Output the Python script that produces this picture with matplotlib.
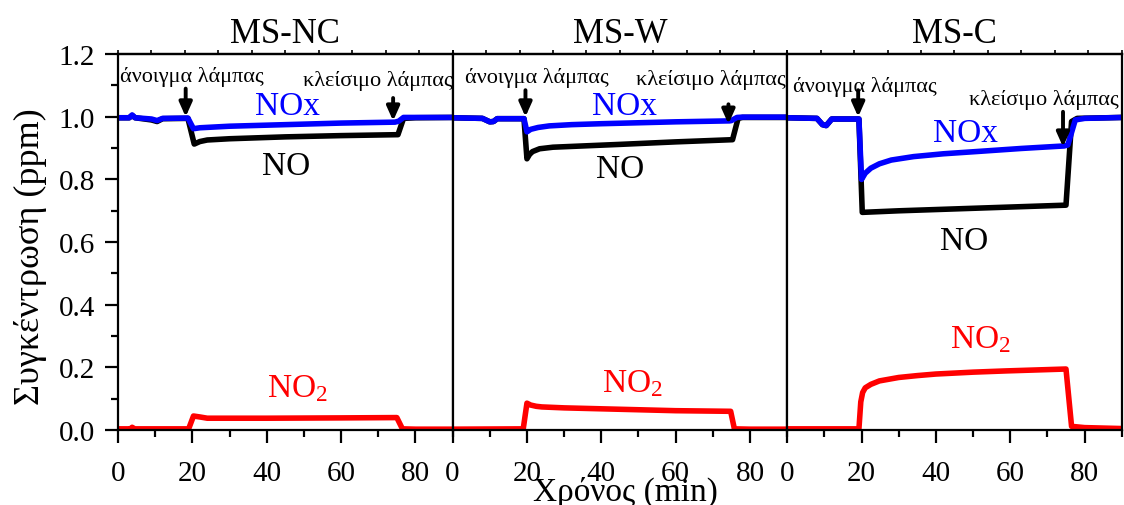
import matplotlib
matplotlib.use("Agg")
import matplotlib.pyplot as plt
from matplotlib.ticker import MultipleLocator

plt.rcParams['font.family'] = ['Liberation Serif', 'DejaVu Serif']
plt.rcParams['mathtext.fontset'] = 'custom'
plt.rcParams['mathtext.rm'] = 'Liberation Serif'
plt.rcParams['mathtext.default'] = 'regular'

# ---- data: concentration (ppm) versus time (min) for three samples ----
panel_titles = ["MS-NC", "MS-W", "MS-C"]

# MS-NC
nc_t_nox = [0, 3, 3.8, 4.6, 9, 10.5, 12, 18.8, 20.3, 22, 30, 45, 60, 74.5, 75.5, 76.8, 80, 90]
nc_nox = [0.997, 0.997, 1.006, 0.997, 0.993, 0.988, 0.995, 0.996, 0.962, 0.965, 0.970, 0.975,
          0.980, 0.983, 0.986, 0.998, 0.998, 0.998]
nc_t_no = [0, 3, 3.8, 4.6, 9, 10.5, 12, 18.8, 20.5, 22, 24, 30, 45, 60, 75.3, 76.8, 80, 90]
nc_no = [0.997, 0.997, 1.004, 0.997, 0.990, 0.985, 0.994, 0.995, 0.913, 0.921, 0.926, 0.930,
         0.936, 0.940, 0.943, 0.995, 0.997, 0.998]
nc_t_no2 = [0, 3.3, 3.8, 4.5, 19, 20.3, 22, 24, 40, 60, 75, 76.5, 80, 90]
nc_no2 = [0.004, 0.004, 0.009, 0.004, 0.004, 0.045, 0.042, 0.038, 0.038, 0.039, 0.040, 0.004,
          0.003, 0.003]

# MS-W
w_t_nox = [0, 8, 10, 11, 12, 19.2, 20, 21, 23, 26, 32, 40, 60, 74.5, 75, 76.5, 78, 90]
w_nox = [0.997, 0.995, 0.984, 0.985, 0.994, 0.994, 0.952, 0.960, 0.966, 0.971, 0.975, 0.978,
         0.984, 0.987, 0.988, 0.998, 0.999, 0.999]
w_t_no = [0, 8, 10, 11, 12, 19.2, 20, 20.7, 21.5, 23.4, 27, 35, 45, 60, 75.3, 76.8, 78, 90]
w_no = [0.997, 0.995, 0.984, 0.985, 0.994, 0.994, 0.866, 0.880, 0.889, 0.898, 0.903, 0.907,
        0.912, 0.920, 0.927, 0.995, 0.998, 0.998]
w_t_no2 = [0, 19, 20, 21, 22.5, 24, 30, 40, 50, 60, 74.8, 75.8, 80, 90]
w_no2 = [0.003, 0.004, 0.086, 0.080, 0.076, 0.074, 0.071, 0.068, 0.065, 0.062, 0.060, 0.004,
         0.003, 0.003]

# MS-C
c_t_nox = [0, 8, 9.5, 10.5, 12, 19.3, 20, 21, 22.5, 24.8, 28, 34, 42, 52, 63, 74.5, 75.5,
           77.5, 80, 90]
c_nox = [0.997, 0.995, 0.975, 0.972, 0.993, 0.993, 0.800, 0.820, 0.836, 0.850, 0.862, 0.873,
         0.882, 0.890, 0.899, 0.907, 0.910, 0.990, 0.995, 0.998]
c_t_no = [0, 8, 9.5, 10.5, 12, 19.3, 20.2, 30, 50, 75, 76.5, 78, 90]
c_no = [0.997, 0.995, 0.975, 0.972, 0.993, 0.993, 0.695, 0.700, 0.708, 0.718, 0.985, 0.995, 0.998]
c_t_no2 = [0, 19.3, 19.8, 20.3, 21, 22.5, 24.8, 30, 35, 40, 50, 59, 67, 75, 76.5, 80, 90]
c_no2 = [0.004, 0.004, 0.090, 0.120, 0.135, 0.146, 0.157, 0.168, 0.174, 0.179, 0.185, 0.189,
         0.192, 0.195, 0.012, 0.008, 0.005]

series = [
    ((nc_t_no, nc_no), (nc_t_nox, nc_nox), (nc_t_no2, nc_no2)),
    ((w_t_no, w_no), (w_t_nox, w_nox), (w_t_no2, w_no2)),
    ((c_t_no, c_no), (c_t_nox, c_nox), (c_t_no2, c_no2)),
]

# lamp on / off markers: (x of arrow, arrow top, arrow tip), text (x, baseline y)
lamp_on = [(18.2, 1.09, 1.0), (19.6, 1.085, 1.0), (19.1, 1.085, 1.0)]
lamp_on_text = [(20.0, 1.115), (22.7, 1.112), (21.0, 1.083)]
lamp_off = [(74.0, 1.06, 0.987), (74.2, 1.04, 0.977), (74.2, 1.016, 0.904)]
lamp_off_text = [(69.8, 1.102), (69.4, 1.105), (69.0, 1.042)]

# species labels (left x, baseline y)
nox_pos = [(36.8, 1.01), (37.4, 1.01), (39.1, 0.923)]
no_pos = [(38.7, 0.818), (38.7, 0.808), (41.0, 0.578)]
no2_pos = [(40.0, 0.109), (40.3, 0.125), (43.7, 0.265)]

fig = plt.figure(figsize=(11.24, 5.06), dpi=100)
left, right, bottom, top = 0.105, 0.998, 0.148, 0.891
w = (right - left) / 3
axes = [fig.add_axes([left + i * w, bottom, w, top - bottom]) for i in range(3)]

lw = 4.0
for i, ax in enumerate(axes):
    (tno, no), (tnox, nox), (tno2, no2) = series[i]
    ax.plot(tno, no, color='black', lw=lw, solid_joinstyle='round')
    ax.plot(tnox, nox, color='#0000ff', lw=lw, solid_joinstyle='round')
    ax.plot(tno2, no2, color='#ff0000', lw=lw, solid_joinstyle='round')

    ax.set_xlim(0, 90)
    ax.set_ylim(0, 1.2)
    ax.xaxis.set_major_locator(MultipleLocator(20))
    ax.xaxis.set_minor_locator(MultipleLocator(10))
    ax.yaxis.set_major_locator(MultipleLocator(0.2))
    ax.yaxis.set_minor_locator(MultipleLocator(0.1))
    for s in ax.spines.values():
        s.set_linewidth(1.6)
    ax.tick_params(axis='x', which='major', direction='out', length=9.5, width=1.6,
                   labelsize=21, pad=12)
    ax.tick_params(axis='x', which='minor', direction='out', length=5, width=1.6)
    if i == 0:
        ax.tick_params(axis='y', which='major', direction='out', length=9.5, width=1.6,
                       labelsize=21, pad=7)
        ax.tick_params(axis='y', which='minor', direction='out', length=5, width=1.6)
        ax.yaxis.set_major_formatter(plt.FuncFormatter(lambda v, p: f"{v:.1f}"))
    else:
        ax.tick_params(axis='y', which='both', left=False, labelleft=False)

    sec = ax.secondary_xaxis('top')
    sec.set_xticks(list(range(0, 91, 9)))
    sec.tick_params(direction='out', length=3, width=1.2, labeltop=False)
    sec.spines['top'].set_linewidth(1.6)

    ax.set_title(panel_titles[i], fontsize=25, pad=9)

    # lamp markers
    for (xa, ya0, ya1), (xt, yt), txt in ((lamp_on[i], lamp_on_text[i], "άνοιγμα λάμπας"),
                                         (lamp_off[i], lamp_off_text[i], "κλείσιμο λάμπας")):
        ax.annotate('', xy=(xa, ya1), xytext=(xa, ya0),
                    arrowprops=dict(arrowstyle='-|>,head_width=0.38,head_length=0.85',
                                    color='black', lw=2.8, shrinkA=0, shrinkB=0))
        ax.text(xt, yt, txt, ha='center', va='baseline', fontsize=16, clip_on=False)

    ax.text(*nox_pos[i], "NOx", color='#0000ff', fontsize=24, ha='left', va='baseline')
    ax.text(*no_pos[i], "NO", color='black', fontsize=24, ha='left', va='baseline')
    ax.text(*no2_pos[i], r"NO$_2$", color='#ff0000', fontsize=24, ha='left', va='baseline')

fig.text(625 / 1124, 1 - 492 / 506, "Χρόνος (min)", fontsize=24, ha='center', va='center')
fig.text(30 / 1124, 0.492, "Συγκέντρωση (ppm)", fontsize=26, ha='center', va='center',
         rotation=90)

fig.savefig("out.png", dpi=100)
